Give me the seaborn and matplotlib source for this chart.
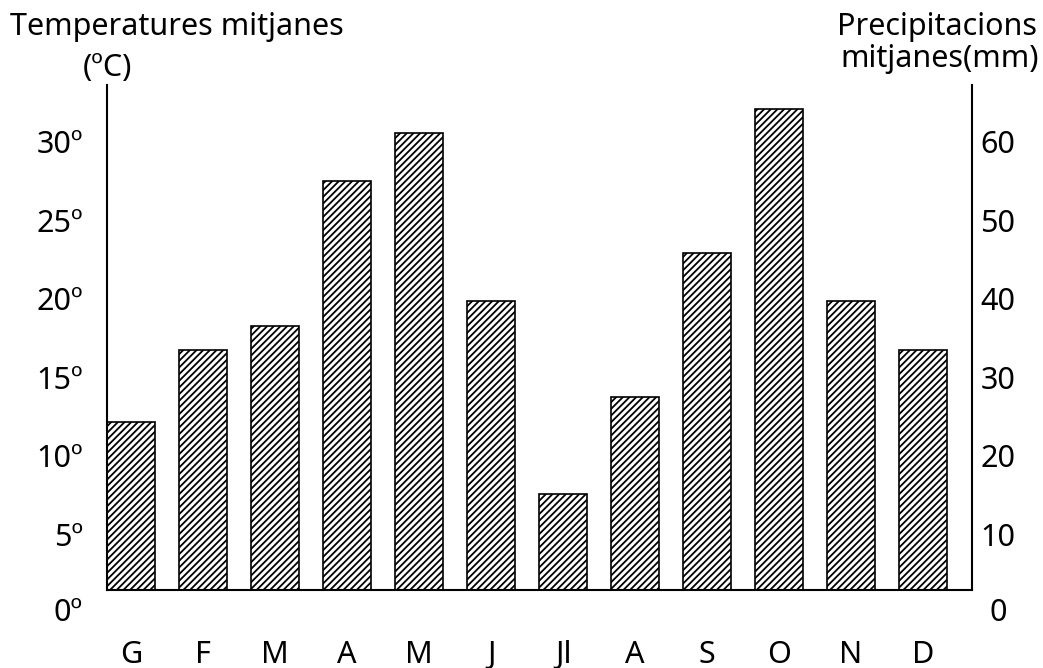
import numpy as np
import matplotlib
matplotlib.use('Agg')
import matplotlib.pyplot as plt
import seaborn as sns

# mesos (catala) i precipitacions mitjanes (mm)
mesos = ['G', 'F', 'M', 'A', 'M', 'J', 'Jl', 'A', 'S', 'O', 'N', 'D']
precip = [24.3, 33.5, 36.5, 55.0, 61.1, 39.7, 15.1, 27.4, 45.8, 64.1, 39.7, 33.5]
mm_ticks = [0, 10, 20, 30, 40, 50, 60]
temp_ticks = [0, 5, 10, 15, 20, 25, 30]

sns.set_theme(style='white')
plt.rcParams['font.family'] = ['Noto Sans', 'DejaVu Sans']
plt.rcParams['text.color'] = 'black'
plt.rcParams['xtick.color'] = 'black'
plt.rcParams['ytick.color'] = 'black'
plt.rcParams['hatch.linewidth'] = 1.3
fs = 22

fig = plt.figure(figsize=(10.43, 6.68), dpi=100)
ax = fig.add_axes([107 / 1043, 78 / 668, 865 / 1043, 505 / 668])

pos = np.arange(len(mesos))
sns.barplot(x=pos, y=precip, ax=ax, color='white', edgecolor='black',
            linewidth=1.2, hatch='/////', width=0.67, saturation=1)

# escala de temperatures a l'esquerra (2 mm = 1 ºC)
tw = ax.twinx()

lo, hi = 2.87, 67.2
ax.set_xticks(pos, mesos)
ax.set_xlabel('')
ax.tick_params(axis='x', length=0, pad=36, labelsize=fs)

# escala de precipitacions a la dreta
ax.yaxis.tick_right()
ax.set_yticks(mm_ticks, [str(v) for v in mm_ticks])
ax.tick_params(axis='y', length=0, pad=18.7, labelsize=fs)
for lab in ax.get_yticklabels():
    lab.set_horizontalalignment('center')

tw.yaxis.tick_left()
tw.set_yticks(temp_ticks, [f'{v}º' for v in temp_ticks])
tw.tick_params(axis='y', length=0, pad=17.3, labelsize=fs)

ax.set_xlim(-0.335, 11.68)
ax.set_ylim(lo, hi)
tw.set_ylim(lo / 2, hi / 2)
tw.grid(False)
ax.grid(False)
for s in tw.spines.values():
    s.set_visible(False)

for side in ['left', 'right', 'bottom']:
    ax.spines[side].set_visible(True)
    ax.spines[side].set_color('black')
    ax.spines[side].set_linewidth(1.5)
ax.spines['top'].set_visible(False)

# els zeros queden per sota de la linia base
ax.annotate(str(mm_ticks[0]), xy=(1, mm_ticks[0]), xycoords=('axes fraction', 'data'),
            xytext=(18.7, 0), textcoords='offset points', ha='center', va='center',
            fontsize=fs, annotation_clip=False)
tw.annotate(f'{temp_ticks[0]}º', xy=(0, temp_ticks[0]), xycoords=('axes fraction', 'data'),
            xytext=(-17.3, 0), textcoords='offset points', ha='right', va='center',
            fontsize=fs, annotation_clip=False)

fig.text(10 / 1043, 1 - 35 / 668, 'Temperatures mitjanes', fontsize=fs, ha='left', va='baseline')
fig.text(83 / 1043, 1 - 76 / 668, '(ºC)', fontsize=fs, ha='left', va='baseline')
fig.text(1037 / 1043, 1 - 35 / 668, 'Precipitacions', fontsize=fs, ha='right', va='baseline')
fig.text(1039 / 1043, 1 - 67 / 668, 'mitjanes(mm)', fontsize=fs, ha='right', va='baseline')

fig.savefig('out.png', dpi=100, facecolor='white')
